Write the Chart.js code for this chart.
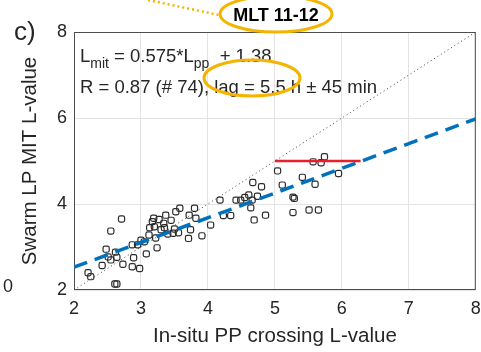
<!DOCTYPE html>
<html>
<head>
<meta charset="utf-8">
<script src="https://cdn.jsdelivr.net/npm/chart.js@4.4.1/dist/chart.umd.min.js"></script>
<style>
  html, body { margin: 0; padding: 0; background: #fff; }
  #wrap { width: 481px; height: 352px; }
</style>
</head>
<body>
<div id="wrap"><canvas id="c" width="481" height="352"></canvas></div>
<script>
'use strict';

// in-situ plasmapause crossing L (x) vs Swarm LP MIT L (y)
const ppL = [
  2.21, 2.25, 2.42, 2.48, 2.51, 2.55, 2.71, 2.61, 2.64, 2.64,
  2.73, 2.87, 2.89, 2.87, 2.98, 3.05, 3.08, 3.12, 3.19, 3.17,
  3.20, 3.24, 3.27, 3.30, 3.37, 3.34, 3.48, 3.50, 3.52, 3.58,
  3.56, 3.72, 3.74, 3.71, 3.80, 3.82, 3.91, 4.04, 4.18, 4.23,
  4.34, 4.42, 4.49, 4.61, 4.64, 4.66, 4.69, 4.67, 4.80, 4.86,
  5.04, 5.11, 5.41, 5.60, 5.27, 5.29, 5.27, 5.51, 5.65, 5.57,
  5.69, 5.74, 5.95, 3.13, 3.22, 3.00, 3.35, 2.55, 2.62, 3.40,
  2.95, 3.45, 4.55, 4.74
];
const mitL = [
  2.40, 2.31, 2.57, 2.95, 2.77, 3.37, 3.65, 2.14, 2.14, 2.76,
  2.60, 3.05, 2.75, 2.54, 2.50, 3.12, 2.84, 3.28, 3.67, 3.59,
  3.47, 2.98, 3.64, 3.40, 3.74, 3.55, 3.32, 3.42, 3.82, 3.90,
  3.33, 3.74, 3.40, 3.20, 3.90, 3.67, 3.26, 3.51, 4.09, 3.73,
  3.73, 4.09, 4.09, 4.21, 3.91, 4.09, 3.63, 4.50, 4.40, 3.74,
  4.77, 4.44, 4.62, 4.46, 4.16, 4.13, 3.80, 3.86, 3.86, 4.98,
  4.96, 5.10, 4.71, 3.45, 3.21, 3.16, 3.45, 2.70, 2.88, 3.30,
  3.05, 3.62, 4.15, 4.18
];

// fit from the panel annotation
const slope = 0.575;
const intercept = 1.38;
const fitX = [2, 8];
const diagX = [2, 8];

// red marker segment
const redX = [5.0, 6.28];
const redY = [5.0, 5.0];

const xTicks = [2, 3, 4, 5, 6, 7, 8];
const yTicks = [2, 4, 6, 8];

const FONT = '"Liberation Sans", Arial, Helvetica, sans-serif';
const INK = '#262626';
const ORANGE = '#f4b400';

const scatterData = ppL.map((x, i) => ({ x: x, y: mitL[i] }));
const fitData = fitX.map(x => ({ x: x, y: slope * x + intercept }));
const diagData = diagX.map(x => ({ x: x, y: x }));
const redData = redX.map((x, i) => ({ x: x, y: redY[i] }));

// fixed axis boxes so the plot area lands where the original one is
const fixBox = size => s => {
  if (s.isHorizontal()) s.height = size; else s.width = size;
  s.paddingLeft = 0;
  s.paddingRight = 0;
  s.paddingTop = 0;
  s.paddingBottom = 0;
};

const decorations = {
  id: 'decorations',
  beforeDatasetsDraw(chart) {
    const { ctx, chartArea: a } = chart;
    ctx.save();
    ctx.strokeStyle = '#4d4d4d';
    ctx.lineWidth = 1;
    ctx.strokeRect(a.left + 0.5, a.top + 0.5, a.right - a.left - 1, a.bottom - a.top - 1);
    ctx.restore();
  },
  afterDraw(chart) {
    const { ctx, chartArea: a } = chart;
    ctx.save();
    ctx.fillStyle = INK;
    ctx.textBaseline = 'alphabetic';

    // equation lines inside the axes
    let x = a.left + 6;
    let y = a.top + 30;
    const part = (txt, size, dy) => {
      ctx.font = size + 'px ' + FONT;
      ctx.fillText(txt, x, y + dy);
      x += ctx.measureText(txt).width;
    };
    part('L', 18.5, 0);
    part('mit', 14, 6);
    part(' = 0.575*L', 18.5, 0);
    part('pp', 14, 6);
    part('  + 1.38', 18.5, 0);

    ctx.font = '18.5px ' + FONT;
    ctx.fillText('R = 0.87 (# 74), lag = 5.5 h \u00b1 45 min', a.left + 6, a.top + 61);

    // panel label and stray neighbour tick
    ctx.font = '26px ' + FONT;
    ctx.fillText('c)', 14, 40);
    ctx.font = '18px ' + FONT;
    ctx.fillText('0', 3, 292);

    // MLT title
    ctx.font = 'bold 18px ' + FONT;
    ctx.fillStyle = '#000';
    ctx.textAlign = 'center';
    ctx.fillText('MLT 11-12', 276, 21);

    // orange highlights
    ctx.strokeStyle = ORANGE;
    ctx.lineWidth = 3;
    ctx.beginPath();
    ctx.ellipse(276, 14, 56, 18, 0, 0, Math.PI * 2);
    ctx.stroke();
    ctx.beginPath();
    ctx.ellipse(252, 78, 48, 18, 0, 0, Math.PI * 2);
    ctx.stroke();
    ctx.setLineDash([2, 3]);
    ctx.lineWidth = 2.5;
    ctx.beginPath();
    ctx.moveTo(148, 0);
    ctx.lineTo(219, 15);
    ctx.stroke();
    ctx.restore();
  }
};

new Chart(document.getElementById('c'), {
  type: 'scatter',
  data: {
    datasets: [
      {
        type: 'line',
        data: redData,
        borderColor: '#e8202a',
        borderWidth: 2.5,
        pointRadius: 0,
        order: 0
      },
      {
        type: 'line',
        data: fitData,
        borderColor: '#0072bd',
        borderWidth: 3.5,
        borderDash: [14, 8],
        pointRadius: 0,
        order: 1
      },
      {
        type: 'line',
        data: diagData,
        borderColor: '#444',
        borderWidth: 1,
        borderDash: [1, 3],
        pointRadius: 0,
        order: 2
      },
      {
        data: scatterData,
        pointStyle: 'rectRounded',
        pointRadius: 3.6,
        pointBorderWidth: 1.2,
        pointBorderColor: '#2b2b2b',
        pointBackgroundColor: 'rgba(0,0,0,0)',
        order: 3
      }
    ]
  },
  options: {
    responsive: false,
    animation: false,
    events: [],
    layout: { padding: { left: 0, right: 3, top: 32, bottom: 0 } },
    plugins: { legend: { display: false }, tooltip: { enabled: false } },
    scales: {
      x: {
        type: 'linear',
        min: 2,
        max: 8,
        afterFit: fixBox(62),
        afterBuildTicks: s => { s.ticks = xTicks.map(v => ({ value: v })); },
        grid: { color: '#e3e3e3', drawTicks: false },
        border: { display: false },
        ticks: { padding: 8, color: INK, font: { family: FONT, size: 18 } },
        title: {
          display: true,
          text: 'In-situ PP crossing L-value',
          color: INK,
          font: { family: FONT, size: 20.5 },
          padding: { top: 0, bottom: 3 }
        }
      },
      y: {
        type: 'linear',
        min: 2,
        max: 8,
        afterFit: fixBox(74),
        afterBuildTicks: s => { s.ticks = yTicks.map(v => ({ value: v })); },
        grid: { color: '#e3e3e3', drawTicks: false },
        border: { display: false },
        ticks: { padding: 7, color: INK, font: { family: FONT, size: 18 } },
        title: {
          display: true,
          text: 'Swarm LP MIT L-value',
          color: INK,
          font: { family: FONT, size: 20.5 },
          padding: { top: 18, bottom: 0 }
        }
      }
    }
  },
  plugins: [decorations]
});
</script>
</body>
</html>
